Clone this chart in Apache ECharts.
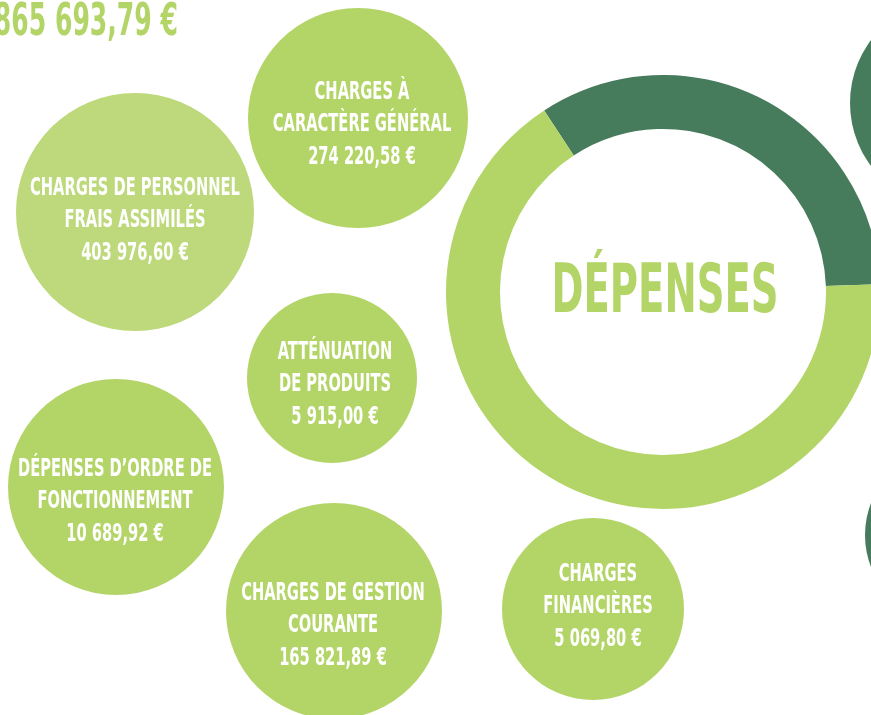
<!DOCTYPE html>
<html>
<head>
<meta charset="utf-8">
<script src="https://cdn.jsdelivr.net/npm/echarts@6/dist/echarts.min.js"></script>
<style>
html,body{margin:0;padding:0;background:#fff;}
#chart{width:871px;height:715px;}
</style>
</head>
<body>
<div id="chart"></div>
<script>
// ---- data ----
var categories = [
  "CHARGES DE PERSONNEL\nFRAIS ASSIMILÉS",
  "CHARGES À\nCARACTÈRE GÉNÉRAL",
  "ATTÉNUATION\nDE PRODUITS",
  "DÉPENSES D’ORDRE DE\nFONCTIONNEMENT",
  "CHARGES DE GESTION\nCOURANTE",
  "CHARGES\nFINANCIÈRES"
];
var values = [403976.60, 274220.58, 5915.00, 10689.92, 165821.89, 5069.80];
var donutNames = ["Investissement", "Fonctionnement"];
var donutValues = [439000, 865693.79];
var totalLabel = "865 693,79 €";
var centerLabel = "DÉPENSES";

// ---- layout (positions / sizes, kept apart from data) ----
// [circleX, circleY, radius, textX, textY]
var bubbleLayout = [
  [135, 212, 119, 135, 221],
  [358, 118, 110, 362, 125],
  [332, 378, 85, 335, 385],
  [116, 487, 108, 115, 502],
  [334, 611, 108, 333, 626],
  [593, 609, 91, 598, 607]
];
var bubbleColors = ["#bdd97b", "#b3d567", "#b3d567", "#b3d567", "#b3d567", "#b3d567"];
var sideLayout = [[955, 103, 105], [953, 535, 88]];

var LIGHT = "#b3d567", DARK = "#467c5c";
var FONT = "'Liberation Sans Narrow', 'DejaVu Sans Condensed', 'Roboto', sans-serif";

function fmtEuro(v) {
  var s = v.toFixed(2).split(".");
  var ip = s[0].replace(/\B(?=(\d{3})+(?!\d))/g, " ");
  return ip + "," + s[1] + " €";
}

var bubbleData = bubbleLayout.map(function (l, i) {
  return { value: [l[0], l[1], l[2], l[3], l[4]], name: categories[i], raw: values[i] };
});

var chart = echarts.init(document.getElementById("chart"), null, { renderer: "canvas" });
chart.setOption({
  backgroundColor: "#ffffff",
  animation: false,
  grid: { left: 0, right: 0, top: 0, bottom: 0 },
  xAxis: { type: "value", min: 0, max: 871, show: false },
  yAxis: { type: "value", min: 0, max: 715, inverse: true, show: false },
  graphic: [
    {
      type: "text", x: 178, y: 23, scaleX: 0.62, silent: true,
      style: { x: 0, y: 0, text: totalLabel, fill: LIGHT, font: "bold 45px " + FONT, align: "right", verticalAlign: "middle" }
    },
    {
      type: "text", x: 665, y: 294, scaleX: 0.63, silent: true, z: 100,
      style: { x: 0, y: 0, text: centerLabel, fill: LIGHT, font: "bold 68px " + FONT, align: "center", verticalAlign: "middle" }
    }
  ],
  series: [
    {
      type: "pie",
      silent: true,
      center: [663, 292],
      radius: [163, 217],
      startAngle: 123.2,
      clockwise: true,
      label: { show: false },
      labelLine: { show: false },
      itemStyle: { borderWidth: 0 },
      data: donutNames.map(function (n, i) {
        return { name: n, value: donutValues[i], itemStyle: { color: i === 0 ? DARK : LIGHT } };
      })
    },
    {
      type: "custom",
      silent: true,
      clip: false,
      data: sideLayout.map(function (l) { return l; }),
      renderItem: function (params, api) {
        var c = api.coord([api.value(0), api.value(1)]);
        var r = api.size([api.value(2), 0])[0];
        return { type: "circle", shape: { cx: c[0], cy: c[1], r: r }, style: { fill: DARK } };
      }
    },
    {
      type: "custom",
      silent: true,
      clip: false,
      data: bubbleData,
      renderItem: function (params, api) {
        var i = params.dataIndex;
        var c = api.coord([api.value(0), api.value(1)]);
        var r = api.size([api.value(2), 0])[0];
        var t = api.coord([api.value(3), api.value(4)]);
        return {
          type: "group",
          children: [
            { type: "circle", shape: { cx: c[0], cy: c[1], r: r }, style: { fill: bubbleColors[i] } },
            {
              type: "text", x: t[0], y: t[1], scaleX: 0.68,
              style: {
                x: 0, y: 0,
                text: categories[i] + "\n" + fmtEuro(values[i]),
                fill: "#ffffff",
                font: "bold 24px " + FONT,
                lineHeight: 32.5,
                align: "center",
                verticalAlign: "middle"
              }
            }
          ]
        };
      }
    }
  ]
});
</script>
</body>
</html>
